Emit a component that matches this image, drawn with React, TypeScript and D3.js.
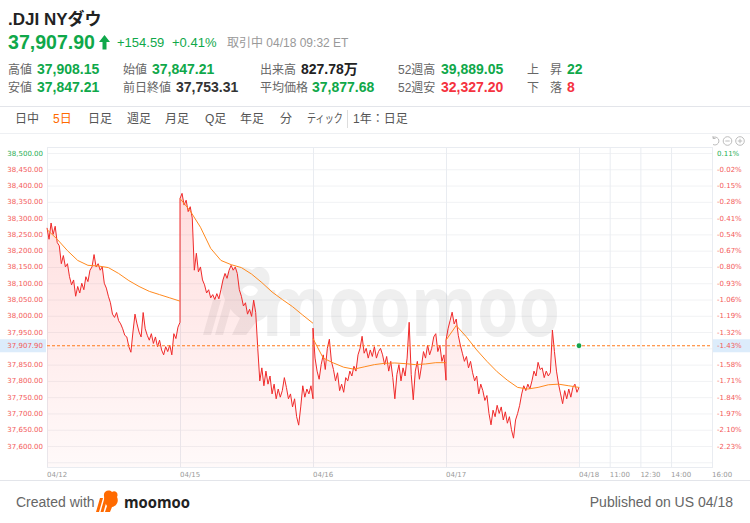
import React from "react";
import * as d3 from "d3";

// session = 09:30-16:00 ET, 390 minutes; price sampled every 6 min, average every 30 min
const SESSION = 390;
const PRICE_STEP = 6;
const AVG_STEP = 30;

const day0412 = [
  38270, 38235, 38285, 38250, 38275, 38225, 38215, 38160, 38185, 38150, 38160, 38120, 38095, 38110,
  38060, 38090, 38070, 38100, 38080, 38120, 38105, 38140, 38150, 38188, 38150, 38160, 38140, 38150,
  38100, 38085, 38060, 38040, 38005, 37995, 38010, 37985, 37975, 37960, 37940, 37935, 37905, 37888,
  37950, 38005, 37975, 37950, 37935, 38010, 37960, 37940, 37925, 37945, 37915, 37935, 37905, 37925,
  37895, 37880, 37905, 37890, 37910, 37880, 37945, 37930, 37965, 37980,
];
const day0415 = [
  38360, 38376, 38340, 38355, 38320, 38335, 38300, 38140, 38192, 38135, 38150, 38110, 38095, 38070,
  38080, 38055, 38065, 38050, 38068, 38052, 38080, 38110, 38130, 38115, 38140, 38155, 38140, 38150,
  38130, 38080, 38060, 38030, 38040, 38005, 38020, 37998, 38048, 38010, 37900, 37800, 37840, 37785,
  37830, 37790, 37815, 37760, 37790, 37745, 37775, 37750, 37770, 37810, 37780, 37745, 37760, 37720,
  37745, 37690, 37664, 37720, 37785, 37750, 37775, 37760, 37785, 37745,
];
const day0416 = [
  37962, 37870, 37830, 37805, 37850, 37880, 37835, 37900, 37928, 37860, 37835, 37800, 37825, 37770,
  37790, 37765, 37810, 37800, 37830, 37815, 37845, 37830, 37880, 37900, 37937, 37885, 37900, 37870,
  37895, 37875, 37905, 37870, 37890, 37900, 37880, 37850, 37875, 37830, 37860, 37810, 37745, 37820,
  37850, 37800, 37840, 37815, 37870, 37980, 37820, 37742, 37830, 37860, 37805, 37845, 37890, 37870,
  37910, 37880, 37900, 37935, 37945, 37890, 37910, 37860, 37880, 37802,
];
const day0417 = [
  37925, 37960, 37985, 38011, 37975, 37990, 37940, 37910, 37885, 37860, 37875, 37840, 37860, 37825,
  37800, 37815, 37760, 37790, 37770, 37740, 37755, 37700, 37665, 37710, 37690, 37725, 37700, 37720,
  37680, 37705, 37670, 37690, 37650, 37624, 37680, 37700, 37725, 37760, 37785, 37770, 37790, 37775,
  37800, 37830, 37815, 37857, 37835, 37840, 37810, 37830, 37815, 37825, 37956, 37890, 37830, 37790,
  37760, 37730, 37770, 37745, 37775, 37750, 37780, 37790, 37765, 37780,
];

const avg0412 = [38265, 38235, 38200, 38170, 38155, 38153, 38148, 38130, 38108, 38090, 38075, 38065, 38055, 38045];
const avg0415 = [38360, 38322, 38272, 38207, 38170, 38157, 38148, 38128, 38102, 38073, 38050, 38028, 38002, 37977];
const avg0416 = [37930, 37870, 37855, 37842, 37836, 37843, 37850, 37854, 37855, 37853, 37850, 37852, 37856, 37856];
const avg0417 = [37925, 37970, 37935, 37895, 37860, 37828, 37802, 37780, 37775, 37780, 37788, 37790, 37785, 37780];

const lastPrice = 37907.9;
const lastPct = "-1.43%";

const priceTicks = [
  38500, 38450, 38400, 38350, 38300, 38250, 38200, 38150, 38100, 38050, 38000, 37950, 37900, 37850,
  37800, 37750, 37700, 37650, 37600, 37550,
];
const pctLabels = [
  "0.11%", "-0.02%", "-0.15%", "-0.28%", "-0.41%", "-0.54%", "-0.67%", "-0.80%", "-0.93%", "-1.06%",
  "-1.19%", "-1.32%", "", "-1.58%", "-1.71%", "-1.84%", "-1.97%", "-2.10%", "-2.23%", "",
];
const timeLabels = ["04/12", "04/15", "04/16", "04/17", "04/18", "11:00", "12:30", "14:00", "16:00"];
const timeTicks = [0, 390, 780, 1170, 1560, 1650, 1740, 1830, 1950];

const statsRow1 = [
  { label: "高値", value: "37,908.15", color: "#0fa84a", x: 8, vx: 37 },
  { label: "始値", value: "37,847.21", color: "#0fa84a", x: 123, vx: 152 },
  { label: "出来高", value: "827.78万", color: "#222", x: 260, vx: 301 },
  { label: "52週高", value: "39,889.05", color: "#0fa84a", x: 398, vx: 441 },
];
const statsRow2 = [
  { label: "安値", value: "37,847.21", color: "#0fa84a", x: 8, vx: 37 },
  { label: "前日終値", value: "37,753.31", color: "#333", x: 123, vx: 176 },
  { label: "平均価格", value: "37,877.68", color: "#0fa84a", x: 260, vx: 312 },
  { label: "52週安", value: "32,327.20", color: "#f5333f", x: 398, vx: 441 },
];
const tabs = [
  { t: "日中", x: 15 }, { t: "5日", x: 53 }, { t: "日足", x: 88 }, { t: "週足", x: 127 },
  { t: "月足", x: 165 }, { t: "Q足", x: 205 }, { t: "年足", x: 240 }, { t: "分", x: 280 },
];

const GREEN = "#0fa84a";
const RED = "#f5333f";
const FONT = "'Liberation Sans', Arial, 'Noto Sans CJK JP', sans-serif";
const AXFONT = "'DejaVu Sans', Verdana, sans-serif";

type Pt = { t: number; v: number };

export default function App() {
  const plotLeft = 47, plotRight = 712, plotTop = 147, plotBottom = 467;
  const x = d3.scaleLinear().domain([0, SESSION * 5]).range([plotLeft, plotRight]);
  const y = d3.scaleLinear().domain([37600, 38500]).range([446, 153]);

  const days = [day0412, day0415, day0416, day0417];
  const avgs = [avg0412, avg0415, avg0416, avg0417];
  const pts: Pt[] = days.flatMap((arr, d) => arr.map((v, i) => ({ t: d * SESSION + i * PRICE_STEP, v })));

  const line = d3.line<Pt>().x((d) => x(d.t)).y((d) => y(d.v));
  const area = d3.area<Pt>().x((d) => x(d.t)).y0(plotBottom).y1((d) => y(d.v));
  const fmt = d3.format(",.2f");
  const yLast = y(lastPrice);

  return (
    <svg width={750} height={523} style={{ position: "absolute", left: 0, top: 0, background: "#fff" }}
      fontFamily={FONT}>
      <defs>
        <linearGradient id="fillG" gradientUnits="userSpaceOnUse" x1="0" y1={plotTop} x2="0" y2={plotBottom}>
          <stop offset="0" stopColor="#ff4040" stopOpacity={0.2} />
          <stop offset="1" stopColor="#ff4040" stopOpacity={0.03} />
        </linearGradient>
      </defs>

      {/* header */}
      <text x={8} y={25} fontSize={17} fontWeight="bold" fill="#222">.DJI NYダウ</text>
      <text x={8} y={49} fontSize={20} fontWeight="bold" fill={GREEN} textLength={87} lengthAdjust="spacingAndGlyphs">37,907.90</text>
      <path d="M104.5,35 L110,42 L106.5,42 L106.5,49.5 L102.5,49.5 L102.5,42 L99,42 Z" fill={GREEN} />
      <text x={117} y={47} fontSize={13} fill={GREEN}>+154.59</text>
      <text x={172} y={47} fontSize={13} fill={GREEN}>+0.41%</text>
      <text x={227} y={47} fontSize={12} fill="#999">取引中 04/18 09:32 ET</text>

      {[statsRow1, statsRow2].map((row, r) =>
        row.map((s) => (
          <g key={`${r}-${s.label}`}>
            <text x={s.x} y={74 + r * 18} fontSize={12} fill="#666">{s.label}</text>
            <text x={s.vx} y={74 + r * 18} fontSize={14} fontWeight="bold" fill={s.color}>{s.value}</text>
          </g>
        ))
      )}
      <text x={527} y={74} fontSize={12} fill="#666">上</text>
      <text x={550} y={74} fontSize={12} fill="#666">昇</text>
      <text x={567} y={74} fontSize={14} fontWeight="bold" fill={GREEN}>22</text>
      <text x={527} y={92} fontSize={12} fill="#666">下</text>
      <text x={550} y={92} fontSize={12} fill="#666">落</text>
      <text x={567} y={92} fontSize={14} fontWeight="bold" fill={RED}>8</text>

      <line x1={0} x2={750} y1={106.5} y2={106.5} stroke="#e3e5ea" />
      {tabs.map((t) => (
        <text key={t.t} x={t.x} y={123} fontSize={12} fill={t.t === "5日" ? "#ff6a00" : "#555"}>{t.t}</text>
      ))}
      <text x={307} y={123} fontSize={12} fill="#555" textLength={36} lengthAdjust="spacingAndGlyphs">ティック</text>
      <line x1={347.5} x2={347.5} y1={110} y2={128} stroke="#ddd" />
      <text x={353} y={123} fontSize={12} fill="#555">1年：日足</text>
      <line x1={0} x2={750} y1={133.5} y2={133.5} stroke="#eef0f3" />

      {/* zoom icons */}
      <g stroke="#b5b5b5" fill="none" strokeWidth={0.9}>
        <path d="M713,137.5 A4,4 0 1 1 713,144.5" />
        <path d="M713,136 L713,138.5 L715.5,138.5" />
        <circle cx={727.5} cy={141} r={4.3} />
        <line x1={725.3} x2={729.7} y1={141} y2={141} />
        <circle cx={740} cy={141} r={4.3} />
        <line x1={737.8} x2={742.2} y1={141} y2={141} />
        <line x1={740} x2={740} y1={138.8} y2={143.2} />
      </g>

      {/* grid */}
      {priceTicks.map((p) => (
        <line key={p} x1={plotLeft} x2={plotRight} y1={y(p) + 0.5} y2={y(p) + 0.5} stroke="#f1f2f4" />
      ))}
      {timeTicks.map((t) => (
        <line key={t} x1={x(t) + 0.5} x2={x(t) + 0.5} y1={plotTop} y2={plotBottom} stroke="#e9ecf1" />
      ))}
      <rect x={plotLeft + 0.5} y={plotTop + 0.5} width={plotRight - plotLeft} height={plotBottom - plotTop}
        fill="none" stroke="#e9ecf1" />

      {/* watermark */}
      <g fill="#000" opacity={0.06}>
        <path d="M203,335 L213,300 L221,300 L211,335 Z M215,335 L225,300 L233,300 L223,335 Z" />
        <path d="M222,292 C218,272 238,262 252,270 C262,262 274,272 268,286 C278,296 272,318 256,322 L246,335 L232,335 L240,318 C230,312 226,302 222,292 Z M242,290 C246,298 256,298 258,290 C254,284 246,284 242,290 Z" />
        <text x={262} y={336} fontSize={84} fontWeight="bold" fontFamily="'Open Sans', 'DejaVu Sans', sans-serif"
          textLength={298} lengthAdjust="spacingAndGlyphs">moomoo</text>
      </g>

      {/* price */}
      <path d={area(pts) ?? ""} fill="url(#fillG)" />
      <path d={line(pts) ?? ""} fill="none" stroke="#f02a2a" strokeWidth={1} strokeLinejoin="round" />
      {avgs.map((arr, d) => (
        <path key={d}
          d={line(arr.map((v, k) => ({ t: d * SESSION + k * AVG_STEP, v }))) ?? ""}
          fill="none" stroke="#ff8a1f" strokeWidth={1} />
      ))}

      {/* last price */}
      <line x1={plotLeft} x2={plotRight} y1={yLast} y2={yLast} stroke="#ff7a1a" strokeDasharray="3,2" />
      <circle cx={x(SESSION * 4)} cy={yLast} r={2.4} fill="#16a34a" />

      {/* axes labels */}
      <g fontFamily={AXFONT} fontSize={7}>
        {priceTicks.map((p, i) =>
          p === 37900 || p === 37550 ? null : (
            <text key={p} x={43} y={y(p) + 2.5} textAnchor="end" fill={i === 0 ? "#1fae55" : "#f35a5a"}>
              {fmt(p)}
            </text>
          )
        )}
        {pctLabels.map((l, i) =>
          l ? (
            <text key={i} x={717} y={y(priceTicks[i]) + 2.5} fill={i === 0 ? "#1fae55" : "#f35a5a"}>{l}</text>
          ) : null
        )}
        <rect x={0} y={yLast - 6.5} width={46} height={13} fill="#dcecfb" />
        <text x={43} y={yLast + 2.5} textAnchor="end" fill="#f35a5a">{fmt(lastPrice)}</text>
        <rect x={713} y={yLast - 6.5} width={37} height={13} fill="#dcecfb" />
        <text x={717} y={yLast + 2.5} fill="#f35a5a">{lastPct}</text>
        {timeLabels.map((l, i) => (
          <text key={l} x={x(timeTicks[i])} y={477} fill="#999">{l}</text>
        ))}
      </g>

      {/* footer */}
      <line x1={0} x2={750} y1={480.5} y2={480.5} stroke="#e3e5ea" />
      <text x={16} y={507} fontSize={14} fill="#666">Created with</text>
      <g fill="#ff6a00">
        <path d="M96,512 L100,498 L103,498 L99,512 Z M100.5,512 L104.5,498 L107.5,498 L103.5,512 Z" />
        <path d="M104,496 C103,491 109,489 112,492 C115,490 119,493 117,497 C119,501 117,506 112,507 L110,512 L105,512 L107,506 C105,503 104,500 104,496 Z" />
      </g>
      <text x={124} y={508} fontSize={16} fontWeight="bold" fill="#222" fontFamily="'Open Sans', Arial, sans-serif"
        textLength={66} lengthAdjust="spacingAndGlyphs">moomoo</text>
      <text x={733} y={507} fontSize={14} fill="#666" textAnchor="end">Published on US 04/18</text>
    </svg>
  );
}
